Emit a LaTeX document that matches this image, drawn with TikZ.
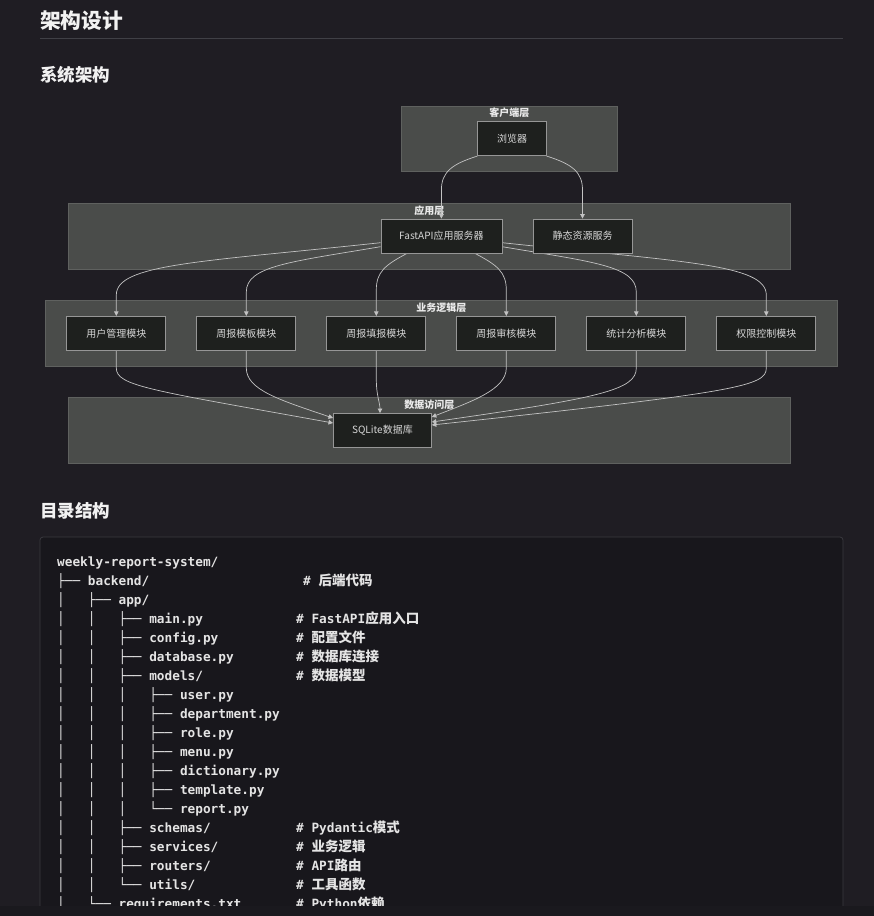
\documentclass[tikz,border=0pt]{standalone}
\usepackage{fontspec}
\newfontfamily\myzh{Noto Sans CJK SC}
\newfontfamily\mymono{DejaVu Sans Mono}
\usetikzlibrary{arrows.meta,calc}
\definecolor{pagebg}{RGB}{31,29,35}
\definecolor{clfill}{RGB}{74,76,74}
\definecolor{clline}{RGB}{95,97,95}
\definecolor{ndfill}{RGB}{30,32,30}
\definecolor{ndline}{RGB}{150,150,150}
\definecolor{edgecol}{RGB}{195,195,195}
\definecolor{codebg}{RGB}{24,23,28}
\definecolor{codeline}{RGB}{58,58,63}
\definecolor{headtxt}{RGB}{242,242,242}
\definecolor{codetxtcol}{RGB}{228,228,228}
\definecolor{ndtxt}{RGB}{215,215,215}
\definecolor{cltxt}{RGB}{235,235,235}
\definecolor{rulecol}{RGB}{64,64,70}
\definecolor{stripcol}{RGB}{26,25,30}
\pgfdeclarelayer{back}
\pgfdeclarelayer{mid}
\pgfsetlayers{back,mid,main}
\newcommand\zh[1]{{\myzh\bfseries\fontsize{13.5}{19}\selectfont #1}}
\tikzset{
  cluster/.style={draw=clline, fill=clfill, line width=0.8pt, anchor=north west, inner sep=0},
  cllabel/.style={anchor=base, inner sep=0, text=cltxt, font=\myzh\bfseries\fontsize{10}{12}\selectfont},
  box/.style={draw=ndline, fill=ndfill, line width=0.8pt, minimum height=34, minimum width=99, inner sep=0, text=ndtxt, font=\myzh\fontsize{10}{12}\selectfont},
  edge/.style={draw=edgecol, line width=0.7pt, -{Triangle[length=4.5pt,width=4.5pt]}},
  heading/.style={anchor=base west, inner sep=0, text=headtxt},
  codetxt/.style={anchor=base west, inner sep=0, text=codetxtcol, font=\mymono\bfseries\fontsize{12.75}{19}\selectfont},
}
\begin{document}
\begin{tikzpicture}[x=1pt,y=-1pt]
\useasboundingbox (0,0) rectangle (874,916);
\begin{pgfonlayer}{back}
\fill[pagebg] (0,0) rectangle (874,916);
% headings
\node[heading, font=\myzh\bfseries\fontsize{20.75}{24}\selectfont] (h1) at (40,28.5) {架构设计};
\draw[rulecol, line width=1pt] (40,38.5) -- (843,38.5);
\node[heading, font=\myzh\bfseries\fontsize{17.5}{20}\selectfont] (h2) at (40,81.3) {系统架构};
\node[heading, font=\myzh\bfseries\fontsize{17.5}{20}\selectfont] (h3) at (40,517.5) {目录结构};
% clusters
\node[cluster, minimum width=216, minimum height=65] (client) at (401,106) {};
\node[cluster, minimum width=722, minimum height=66] (app) at (68,203) {};
\node[cluster, minimum width=792, minimum height=66] (biz) at (45,300) {};
\node[cluster, minimum width=722, minimum height=66] (data) at (68,397) {};
\node[cllabel] (clientlbl) at ($(client.north)+(0,10.5)$) {客户端层};
\node[cllabel] (applbl) at ($(app.north)+(0,11.5)$) {应用层};
\node[cllabel] (bizlbl) at ($(biz.north)+(0,11)$) {业务逻辑层};
\node[cllabel] (datalbl) at ($(data.north)+(0,11)$) {数据访问层};
\end{pgfonlayer}
% nodes
\node[box, minimum width=68.5] (browser) at (512,138.7) {浏览器};
\node[box, minimum width=121] (fastapi) at (441.4,236) {FastAPI应用服务器};
\node[box] (static) at (582.5,236) {静态资源服务};
\node[box] (m1) at (116.3,333.3) {用户管理模块};
\node[box] (m2) at (246.3,333.3) {周报模板模块};
\node[box] (m3) at (376.3,333.3) {周报填报模块};
\node[box] (m4) at (506.3,333.3) {周报审核模块};
\node[box] (m5) at (636.3,333.3) {统计分析模块};
\node[box] (m6) at (766.3,333.3) {权限控制模块};
\node[box, minimum width=98] (sqlite) at (382.4,430.5) {SQLite数据库};
% edges
\begin{pgfonlayer}{mid}
\draw[edge] (browser.south west) .. controls (452,164) and (441.4,172) .. (441.4,190) -- (fastapi.north);
\draw[edge] (browser.south east) .. controls (572,164) and (582.5,172) .. (582.5,190) -- (static.north);
\draw[edge] ($(fastapi.west)+(0,6.7)$) .. controls (200,262) and (116.3,264) .. (116.3,295) -- (m1.north);
\draw[edge] ($(fastapi.west)+(0,10.7)$) .. controls (290,262) and (246.3,266) .. (246.3,292) -- (m2.north);
\draw[edge] ($(fastapi.south)+(-34.4,0)$) .. controls (385,265) and (376.3,272) .. (376.3,290) -- (m3.north);
\draw[edge] ($(fastapi.south)+(33.6,0)$) .. controls (497,265) and (506.3,272) .. (506.3,290) -- (m4.north);
\draw[edge] ($(fastapi.east)+(0,10.7)$) .. controls (593,262) and (636.3,266) .. (636.3,292) -- (m5.north);
\draw[edge] ($(fastapi.east)+(0,6.7)$) .. controls (683,262) and (766.3,264) .. (766.3,295) -- (m6.north);
\draw[edge] (m1.south) -- (116.3,368) .. controls (116.3,386) and (150,390) .. ($(sqlite.west)+(0,-7.5)$);
\draw[edge] (m2.south) -- (246.3,368) .. controls (246.3,390) and (280,400) .. ($(sqlite.west)+(0,-12.5)$);
\draw[edge] (m3.south) -- (376.3,380) .. controls (376.3,395) and (380,403) .. ($(sqlite.north)+(-2.4,0)$);
\draw[edge] (m4.south) -- (506.3,368) .. controls (506.3,390) and (470,402) .. ($(sqlite.east)+(0,-13.5)$);
\draw[edge] (m5.south) -- (636.3,368) .. controls (636.3,390) and (600,398) .. ($(sqlite.east)+(0,-8.5)$);
\draw[edge] (m6.south) -- (766.3,368) .. controls (766.3,386) and (740,392) .. ($(sqlite.east)+(0,-5.5)$);
\end{pgfonlayer}
% code block
\fill[codebg, rounded corners=3pt] (40,930) -- (40,537) -- (843,537) -- (843,930) -- cycle;
\draw[codeline, line width=0.8pt, rounded corners=3pt] (40,930) -- (40,537) -- (843,537) -- (843,930);
\begin{scope}
\clip (40,537) rectangle (843,906);
\node[codetxt] (l1) at (57,566.5) {weekly-report-system/};
\node[codetxt] (l2) at (57,585.5) {├──~backend/};
\node[codetxt] (c2) at (303,585.5) {\#~\zh{后端代码}};
\node[codetxt] (l3) at (57,604.5) {│~~~├──~app/};
\node[codetxt] (l4) at (57,623.5) {│~~~│~~~├──~main.py};
\node[codetxt] (c4) at (296,623.5) {\#~FastAPI\zh{应用入口}};
\node[codetxt] (l5) at (57,642.5) {│~~~│~~~├──~config.py};
\node[codetxt] (c5) at (296,642.5) {\#~\zh{配置文件}};
\node[codetxt] (l6) at (57,661.5) {│~~~│~~~├──~database.py};
\node[codetxt] (c6) at (296,661.5) {\#~\zh{数据库连接}};
\node[codetxt] (l7) at (57,680.5) {│~~~│~~~├──~models/};
\node[codetxt] (c7) at (296,680.5) {\#~\zh{数据模型}};
\node[codetxt] (l8) at (57,699.5) {│~~~│~~~│~~~├──~user.py};
\node[codetxt] (l9) at (57,718.5) {│~~~│~~~│~~~├──~department.py};
\node[codetxt] (l10) at (57,737.5) {│~~~│~~~│~~~├──~role.py};
\node[codetxt] (l11) at (57,756.5) {│~~~│~~~│~~~├──~menu.py};
\node[codetxt] (l12) at (57,775.5) {│~~~│~~~│~~~├──~dictionary.py};
\node[codetxt] (l13) at (57,794.5) {│~~~│~~~│~~~├──~template.py};
\node[codetxt] (l14) at (57,813.5) {│~~~│~~~│~~~└──~report.py};
\node[codetxt] (l15) at (57,832.5) {│~~~│~~~├──~schemas/};
\node[codetxt] (c15) at (296,832.5) {\#~Pydantic\zh{模式}};
\node[codetxt] (l16) at (57,851.5) {│~~~│~~~├──~services/};
\node[codetxt] (c16) at (296,851.5) {\#~\zh{业务逻辑}};
\node[codetxt] (l17) at (57,870.5) {│~~~│~~~├──~routers/};
\node[codetxt] (c17) at (296,870.5) {\#~API\zh{路由}};
\node[codetxt] (l18) at (57,889.5) {│~~~│~~~└──~utils/};
\node[codetxt] (c18) at (296,889.5) {\#~\zh{工具函数}};
\node[codetxt] (l19) at (57,908.5) {│~~~└──~requirements.txt};
\node[codetxt] (c19) at (296,908.5) {\#~Python\zh{依赖}};
\end{scope}
\fill[stripcol] (0,906) rectangle (874,916);
\end{tikzpicture}
\end{document}
